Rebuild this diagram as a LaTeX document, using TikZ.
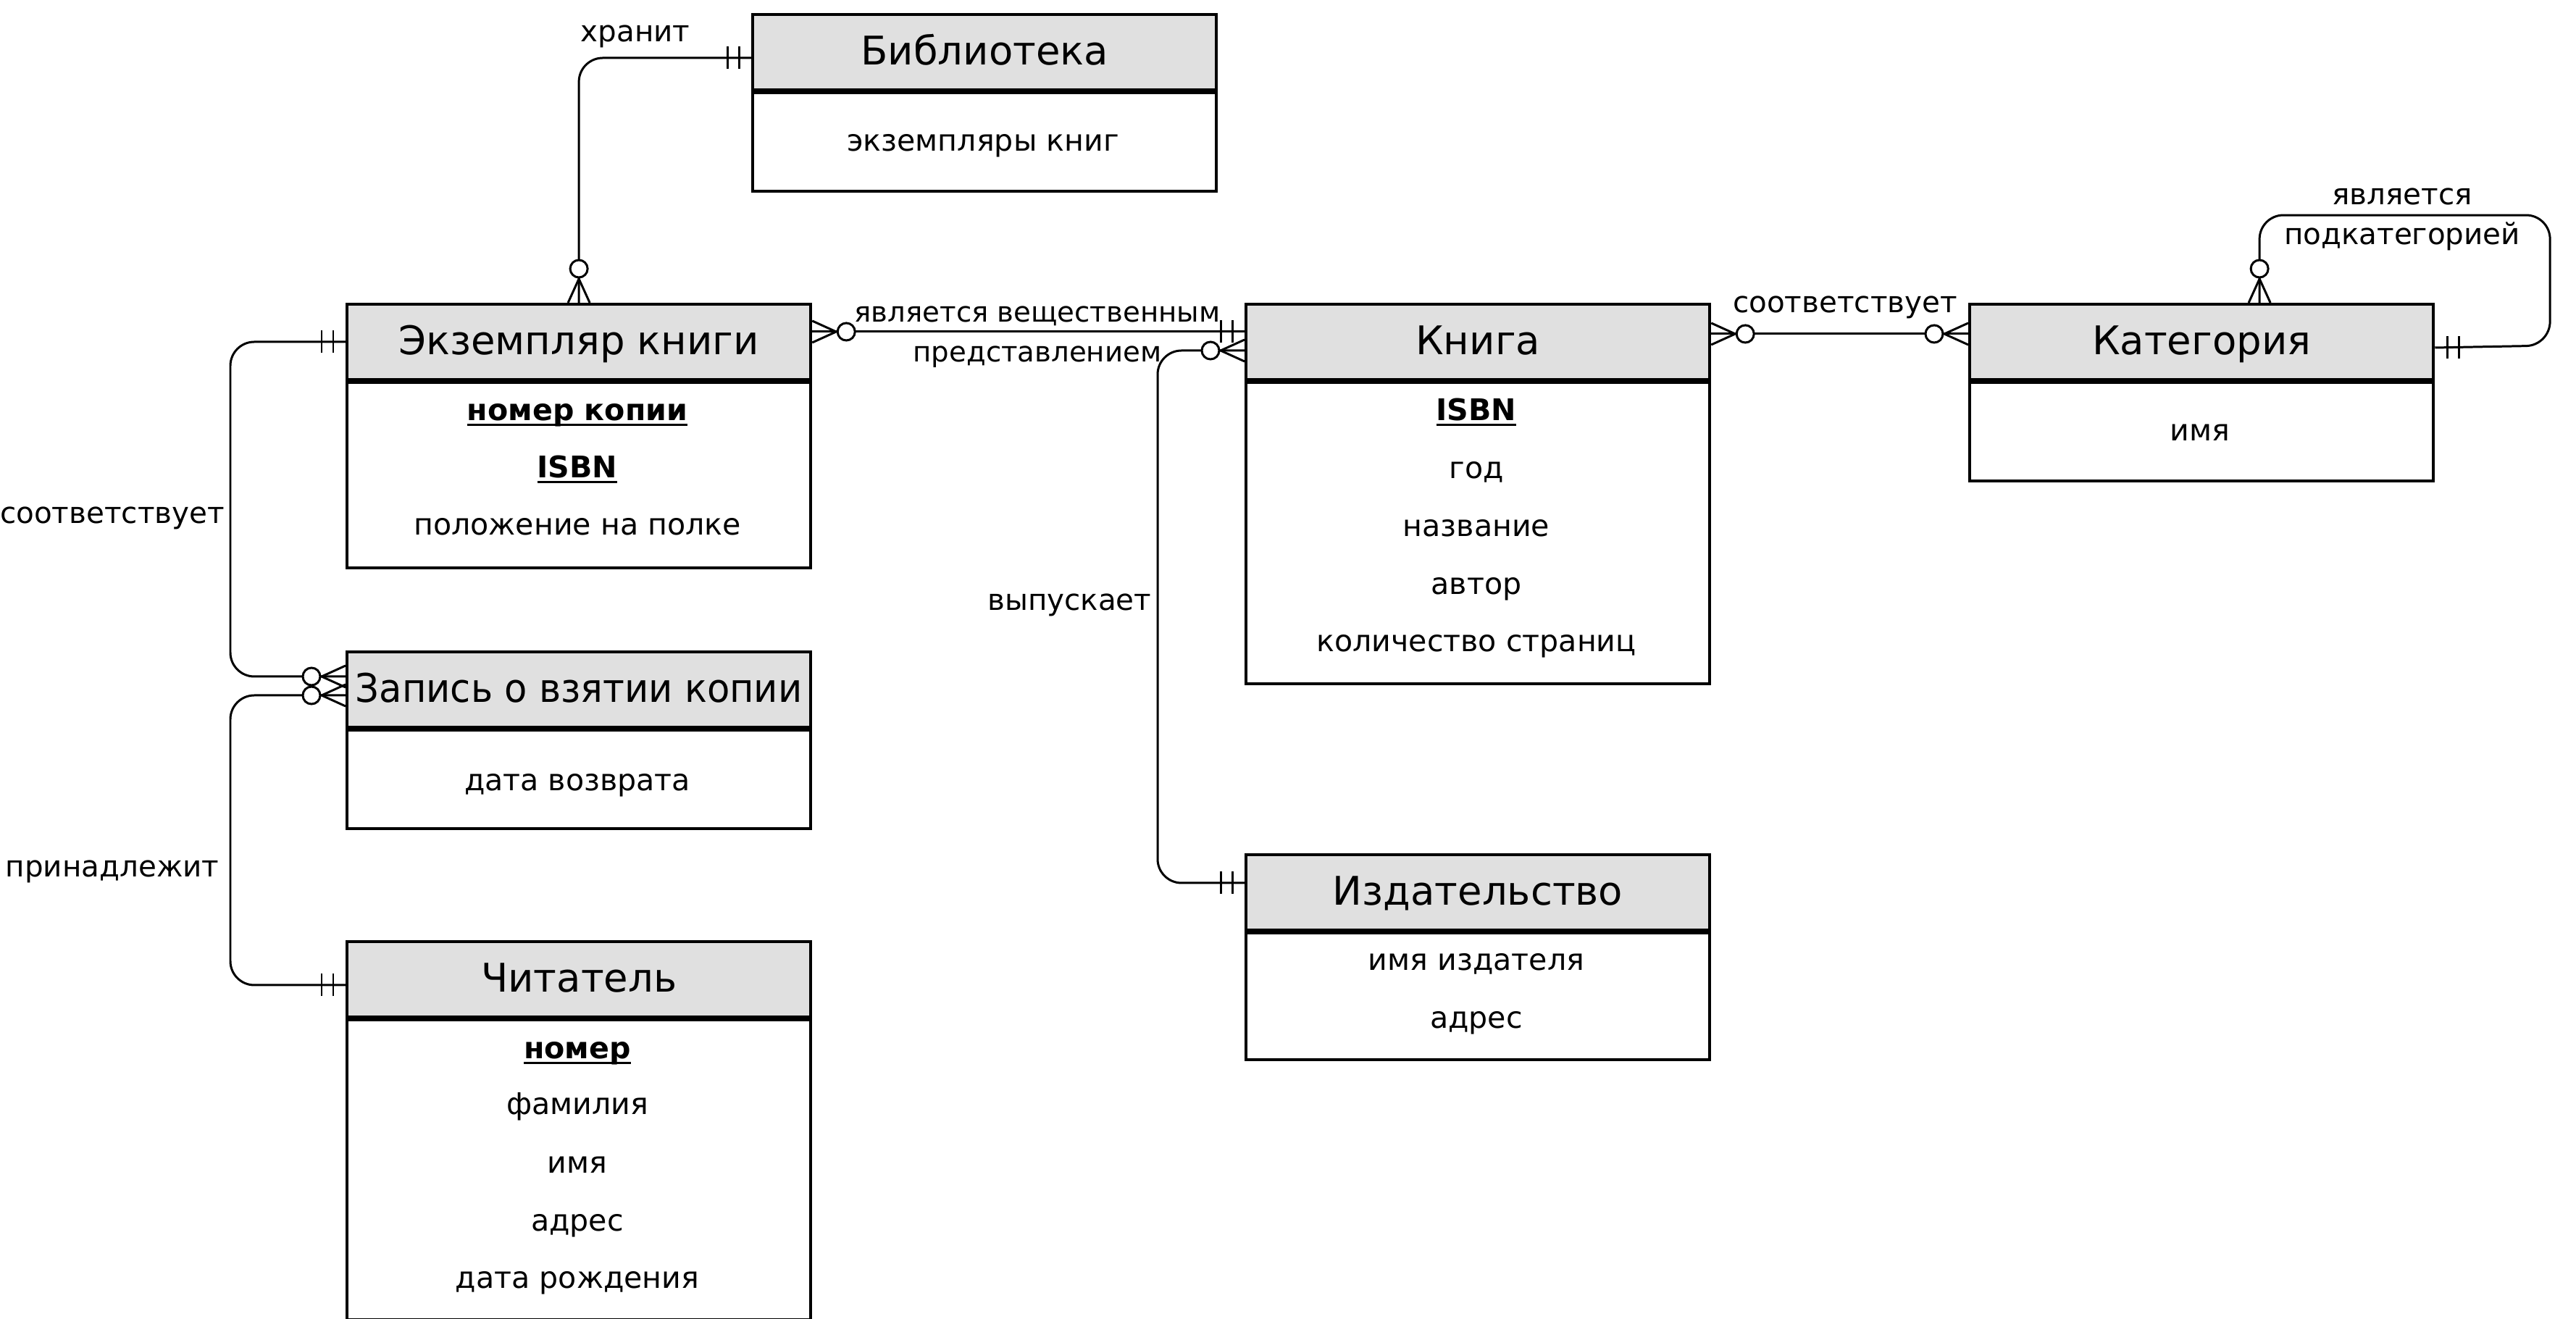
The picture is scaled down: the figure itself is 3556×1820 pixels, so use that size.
\documentclass[tikz,border=0pt]{standalone}
\usepackage{fontspec}
\usepackage{graphicx}
\setmainfont{DejaVu Sans}
\usetikzlibrary{calc}
\definecolor{hdrgray}{RGB}{224,224,224}
\newcommand\keyul[1]{\setbox0\hbox{#1}\rlap{\rule[-2.3pt]{\wd0}{0.85pt}}\box0}
\tikzset{
  boxline/.style={line width=1.1pt},
  hdr/.style={draw, boxline, fill=hdrgray, minimum width=6.4cm, minimum height=1.04cm, inner sep=0pt, text height=1.02em, text depth=0pt, font=\fontsize{15.5}{18}\selectfont, anchor=north west},
  bodybox/.style={draw, boxline, minimum width=6.4cm, inner sep=0pt, anchor=north},
  attr/.style={font=\fontsize{11.7}{14}\selectfont, anchor=base, inner sep=0pt},
  keyattr/.style={font=\fontsize{11.7}{14}\selectfont\bfseries, anchor=base, inner sep=0pt},
  lbl/.style={font=\fontsize{11.5}{15.6}\selectfont, inner sep=0pt, align=center},
  conn/.style={line width=0.85pt, rounded corners=0.33cm},
  zmany/.pic={\draw[line width=0.85pt] (0,15)--(33,0)--(0,-15); \draw[line width=0.85pt, fill=white] (47,0) circle[radius=0.12cm];},
  onebar/.pic={\draw[line width=0.85pt] (17,-15.5)--(17,15.5) (33,-15.5)--(33,15.5);}
}
\begin{document}
\begin{tikzpicture}[x=0.01cm,y=-0.01cm]
\useasboundingbox (0,0) rectangle (3556,1820);
% Библиотека
\node[hdr] (libh) at (1037,18) {Библиотека};
\node[bodybox, minimum height=1.36cm] (libb) at (libh.south) {};
\node[attr] (lib1) at (1357,208) {экземпляры книг};
% Экземпляр книги
\node[hdr] (exh) at (477,418) {Экземпляр книги};
\node[bodybox, minimum height=2.56cm] (exb) at (exh.south) {};
\node[keyattr] (ex1) at (797,580) {\keyul{номер копии}};
\node[keyattr] (ex2) at (797,659) {\keyul{ISBN}};
\node[attr] (ex3) at (797,738) {положение на полке};
% Книга
\node[hdr] (knh) at (1718,418) {Книга};
\node[bodybox, minimum height=4.16cm] (knb) at (knh.south) {};
\node[keyattr] (kn1) at (2038,580) {\keyul{ISBN}};
\node[attr] (kn2) at (2038,660) {год};
\node[attr] (kn3) at (2038,740) {название};
\node[attr] (kn4) at (2038,820) {автор};
\node[attr] (kn5) at (2038,899) {количество страниц};
% Категория
\node[hdr] (kah) at (2717,418) {Категория};
\node[bodybox, minimum height=1.36cm] (kab) at (kah.south) {};
\node[attr] (ka1) at (3037,608) {имя};
% Запись о взятии копии
\node[hdr] (zah) at (477,898) {\scalebox{0.94}[1]{Запись о взятии копии}};
\node[bodybox, minimum height=1.36cm] (zab) at (zah.south) {};
\node[attr] (za1) at (797,1091) {дата возврата};
% Читатель
\node[hdr] (chh) at (477,1298) {Читатель};
\node[bodybox, minimum height=4.14cm] (chb) at (chh.south) {};
\node[keyattr] (ch1) at (797,1461) {\keyul{номер}};
\node[attr] (ch2) at (797,1538) {фамилия};
\node[attr] (ch3) at (797,1619) {имя};
\node[attr] (ch4) at (797,1699) {адрес};
\node[attr] (ch5) at (797,1778) {дата рождения};
% Издательство
\node[hdr] (izh) at (1718,1178) {Издательство};
\node[bodybox, minimum height=1.75cm] (izb) at (izh.south) {};
\node[attr] (iz1) at (2038,1339) {имя издателя};
\node[attr] (iz2) at (2038,1419) {адрес};

% connectors
\draw[conn] ($(libh.west)+(0,8)$) -| (exh.north);
\draw[conn] (exh.west) -- ++(-159,0) |- ($(zah.west)+(0,-18)$);
\draw[conn] ($(chh.west)+(0,8)$) -- ++(-159,0) |- ($(zah.west)+(0,8)$);
\draw[conn] ($(exh.east)+(0,-14)$) -- ($(knh.west)+(0,-14)$);
\draw[conn] ($(izh.west)+(0,-13)$) -- ++(-120,0) |- ($(knh.west)+(0,12)$);
\draw[conn] ($(knh.east)+(0,-11)$) -- ($(kah.west)+(0,-11)$);
\draw[conn] ($(kah.north)+(80,0)$) -- ++(0,-121) -- ++(401,0) -- ++(0,180) -- ($(kah.east)+(0,8)$);

% end marks
\pic[rotate=180] at ($(libh.west)+(0,8)$) {onebar};
\pic[rotate=90] at (exh.north) {zmany};
\pic[rotate=180] at (exh.west) {onebar};
\pic[rotate=180] at ($(zah.west)+(0,-18)$) {zmany};
\pic[rotate=180] at ($(chh.west)+(0,8)$) {onebar};
\pic[rotate=180] at ($(zah.west)+(0,8)$) {zmany};
\pic at ($(exh.east)+(0,-14)$) {zmany};
\pic[rotate=180] at ($(knh.west)+(0,-14)$) {onebar};
\pic[rotate=180] at ($(izh.west)+(0,-13)$) {onebar};
\pic[rotate=180] at ($(knh.west)+(0,12)$) {zmany};
\pic at ($(knh.east)+(0,-11)$) {zmany};
\pic[rotate=180] at ($(kah.west)+(0,-11)$) {zmany};
\pic[rotate=90] at ($(kah.north)+(80,0)$) {zmany};
\pic at ($(kah.east)+(0,8)$) {onebar};

% labels
\node[lbl, anchor=base] (l1) at (877,57) {хранит};
\node[lbl, anchor=base] (l2) at (155,722) {соответствует};
\node[lbl, anchor=base] (l3) at (155,1210) {принадлежит};
\node[lbl, font=\fontsize{11}{15.6}\selectfont] (l4) at (1432,465) {является вещественным\\представлением};
\node[lbl, anchor=base east] (l5) at (1590,842) {выпускает};
\node[lbl, anchor=base] (l6) at (2547,431) {соответствует};
\node[lbl] (l7) at (3316,303) {является\\подкатегорией};
\end{tikzpicture}
\end{document}
